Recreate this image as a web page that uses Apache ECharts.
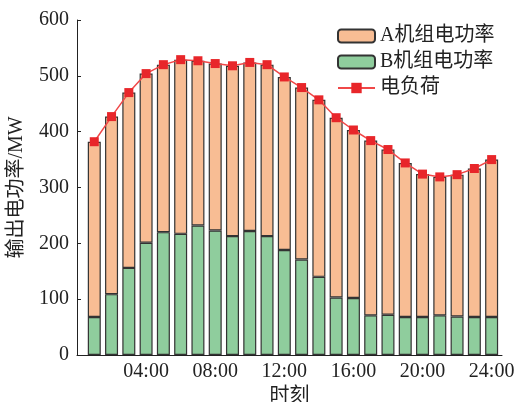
<!DOCTYPE html>
<html>
<head>
<meta charset="utf-8">
<script src="https://cdn.jsdelivr.net/npm/echarts@6/dist/echarts.min.js"></script>
<style>
html, body { margin: 0; padding: 0; background: #fff; }
#chart { width: 519px; height: 402px; }
</style>
</head>
<body>
<div id="chart"></div>
<script>
// Hour of day for each bar (1..24)
var hours = [1, 2, 3, 4, 5, 6, 7, 8, 9, 10, 11, 12, 13, 14, 15, 16, 17, 18, 19, 20, 21, 22, 23, 24];
// Electric load (MW)
var load = [382, 427, 470, 504, 520, 529, 527, 522, 518, 524, 520, 498, 479, 457, 425, 403, 384, 368, 344, 324, 319, 323, 334, 350];
// Unit B output (MW)
var unitB = [68, 109, 156, 201, 220, 217, 232, 223, 213, 222, 213, 188, 171, 140, 103, 102, 71, 72, 68, 68, 71, 69, 68, 68];
// Unit A covers the rest of the load
var unitA = load.map(function (v, i) { return v - unitB[i]; });
// Tick positions and labels on the time axis
var timeTicks = [4, 8, 12, 16, 20, 24];
var timeLabels = ['04:00', '08:00', '12:00', '16:00', '20:00', '24:00'];

var serif = '"Liberation Serif", "Noto Sans CJK SC", serif';
// value first, hour second, so that stacking runs on the power dimension
function pairs(vals) { return vals.map(function (v, i) { return [v, hours[i]]; }); }

var chart = echarts.init(document.getElementById('chart'));
chart.setOption({
  animation: false,
  textStyle: { fontFamily: serif },
  grid: { left: 77, right: 17, top: 20, bottom: 47, outerBoundsMode: 'none', containLabel: false },
  legend: {
    orient: 'vertical',
    left: 332,
    top: 21,
    itemWidth: 37,
    itemHeight: 13,
    itemGap: 6,
    textStyle: { fontFamily: serif, fontSize: 20, color: '#222' },
    data: ['A机组电功率', 'B机组电功率', '电负荷']
  },
  xAxis: {
    type: 'value',
    min: 0,
    max: 24.6,
    name: '时刻',
    nameLocation: 'middle',
    nameGap: 30,
    nameTextStyle: { fontFamily: serif, fontSize: 20, color: '#222' },
    splitLine: { show: false },
    axisLine: { lineStyle: { color: '#222', width: 1 } },
    axisTick: { inside: true, length: 4, lineStyle: { color: '#222' }, customValues: timeTicks },
    axisLabel: {
      customValues: timeTicks,
      fontFamily: serif, fontSize: 20, color: '#222', margin: 7,
      formatter: function (v) { return timeLabels[timeTicks.indexOf(v)] || ''; }
    }
  },
  yAxis: {
    type: 'value',
    min: 0,
    max: 600,
    interval: 100,
    name: '输出电功率/MW',
    nameLocation: 'middle',
    nameGap: 50,
    nameTextStyle: { fontFamily: serif, fontSize: 20, color: '#222' },
    splitLine: { show: false },
    axisLine: { show: true, lineStyle: { color: '#222', width: 1 } },
    axisTick: { show: true, inside: true, length: 4, lineStyle: { color: '#222' } },
    axisLabel: { fontFamily: serif, fontSize: 20, color: '#222', margin: 8 }
  },
  series: [
    {
      name: 'B机组电功率',
      type: 'bar',
      stack: 'power',
      barWidth: 13,
      encode: { x: 1, y: 0 },
      data: pairs(unitB),
      itemStyle: { color: '#8fcd9d', borderColor: '#333', borderWidth: 1.2 }
    },
    {
      name: 'A机组电功率',
      type: 'bar',
      stack: 'power',
      barWidth: 13,
      encode: { x: 1, y: 0 },
      data: pairs(unitA),
      itemStyle: { color: '#f8bd94', borderColor: '#333', borderWidth: 1.2 }
    },
    {
      name: '电负荷',
      type: 'line',
      encode: { x: 1, y: 0 },
      data: pairs(load),
      symbol: 'rect',
      symbolSize: 9,
      z: 5,
      lineStyle: { color: '#f04848', width: 1.5 },
      itemStyle: { color: '#e8262a' }
    }
  ]
});
</script>
</body>
</html>
